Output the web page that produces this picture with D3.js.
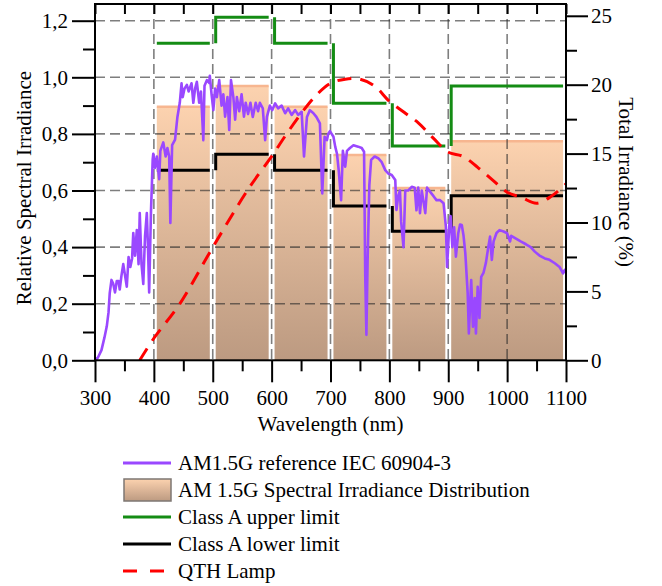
<!DOCTYPE html>
<html>
<head>
<meta charset="utf-8">
<script src="https://cdn.jsdelivr.net/npm/d3@7"></script>
<style>
  html, body { margin: 0; padding: 0; background: #fff; }
  svg { display: block; }
  svg text { font-family: "Liberation Serif", "DejaVu Serif", "Times New Roman", Times, serif !important; }
</style>
</head>
<body>
<svg id="chart" width="662" height="586"></svg>
<script>
// ---------------- data ----------------
const bandStart = [400, 500, 600, 700, 800, 900];
const bandEnd   = [500, 600, 700, 800, 900, 1100];
const distribution = [18.4, 19.9, 18.4, 14.9, 12.5, 15.9];   // % (right axis)
const upperLimit   = [23.0, 24.9, 23.0, 18.65, 15.55, 19.9];  // % (right axis)
const lowerLimit   = [13.8, 14.95, 13.8, 11.2, 9.36, 11.95];  // % (right axis)

const amWavelength = [300,305,311,316,320,323,325,328,331,334,337,340,342,345,348,351,354,357,360,363,365,368,371,374,376,379,382,385,388,390,392,395,398,399,402,405,409,411,416,420,423,426,428,431,436,440,444,447,449,452,456,459,464,467,470,473,477,480,484,486,490,494,495,498,501,504,507,511,515,518,521,525,528,531,535,538,541,545,549,553,556,560,564,568,573,577,580,585,589,592,597,601,606,611,617,623,628,634,640,645,651,655,660,665,671,676,682,686,690,694,696,699,705,708,711,714,718,721,725,728,733,739,747,753,757,759,761,763,766,769,775,781,787,793,798,804,810,812,815,818,820,824,827,832,838,843,846,849,852,855,861,864,869,875,880,886,892,896,898,902,904,907,910,913,917,920,923,926,929,933,935,939,942,945,947,950,953,956,960,964,968,971,974,977,982,987,994,1000,1005,1007,1015,1023,1032,1040,1047,1055,1064,1072,1081,1089,1095,1098,1100];
const amValue = [0.0,0.01,0.036,0.08,0.12,0.17,0.237,0.284,0.27,0.24,0.28,0.28,0.25,0.30,0.34,0.30,0.26,0.365,0.33,0.36,0.45,0.37,0.46,0.34,0.52,0.34,0.27,0.44,0.52,0.40,0.24,0.52,0.71,0.73,0.68,0.72,0.64,0.74,0.77,0.72,0.75,0.72,0.485,0.76,0.78,0.86,0.91,0.979,0.93,0.96,0.973,0.95,0.979,0.91,0.96,0.984,0.91,0.95,0.778,0.97,0.99,0.98,1.005,0.94,0.884,0.96,0.93,0.99,0.90,0.94,0.861,0.93,0.814,0.99,0.93,0.85,0.93,0.88,0.94,0.861,0.91,0.87,0.91,0.86,0.91,0.88,0.91,0.89,0.778,0.86,0.90,0.884,0.908,0.89,0.90,0.873,0.89,0.867,0.884,0.867,0.878,0.72,0.86,0.884,0.873,0.86,0.837,0.59,0.79,0.778,0.80,0.81,0.79,0.755,0.73,0.67,0.566,0.74,0.684,0.74,0.75,0.76,0.755,0.75,0.737,0.30,0.09,0.35,0.62,0.708,0.72,0.714,0.70,0.672,0.66,0.655,0.637,0.531,0.58,0.60,0.49,0.40,0.60,0.60,0.613,0.61,0.53,0.61,0.52,0.60,0.52,0.61,0.596,0.58,0.566,0.566,0.555,0.472,0.33,0.484,0.51,0.40,0.47,0.366,0.449,0.48,0.478,0.44,0.378,0.237,0.095,0.284,0.119,0.22,0.095,0.26,0.15,0.295,0.31,0.345,0.40,0.437,0.355,0.42,0.45,0.46,0.455,0.449,0.42,0.44,0.43,0.42,0.41,0.40,0.384,0.37,0.36,0.355,0.343,0.33,0.307,0.32,0.31];

const qthWavelength = [376,400,444,500,560,600,625,650,675,700,725,750,775,800,825,850,875,900,925,950,975,1000,1025,1050,1075,1100];
const qthValue      = [0,1.6,4.1,8.2,12.4,14.8,16.4,17.9,19.2,20.1,20.4,20.4,19.9,18.8,18.0,17.2,16.1,15.1,14.8,14.0,13.1,12.2,11.8,11.4,11.9,12.8];

const xTicks = [300,400,500,600,700,800,900,1000,1100];
const xMinor = [350,450,550,650,750,850,950,1050];
const leftTicks = [0,0.2,0.4,0.6,0.8,1.0,1.2];
const leftMinor = [0.1,0.3,0.5,0.7,0.9,1.1];
const rightTicks = [0,5,10,15,20,25];
const rightMinor = [2.5,7.5,12.5,17.5,22.5];
const xGrid = [400,500,600,700,800,900,1000];
const yGrid = [0.2,0.4,0.6,0.8,1.0,1.2];

const legendLabels = ["AM1.5G reference IEC 60904-3","AM 1.5G Spectral Irradiance Distribution","Class A upper limit","Class A lower limit","QTH Lamp"];

// ---------------- layout ----------------
const X0 = 95, X1 = 566, YB = 360.3, YT = 4;
const FONT = 21;
const FAMILY = "'Liberation Serif', 'DejaVu Serif', 'Times New Roman', serif";
const svg = d3.select("#chart");

const x = d3.scaleLinear().domain([300, 1100]).range([X0, X1]);
const yL = d3.scaleLinear().domain([0, 1.2]).range([YB, 20.7]);
const yR = d3.scaleLinear().domain([0, 25]).range([YB, 15.8]);

const colPurple = "#9a48ff", colGreen = "#148c14", colBlack = "#000", colRed = "#ff0000";

const defs = svg.append("defs");
const grad = defs.append("linearGradient").attr("id", "barGrad")
  .attr("x1", 0).attr("y1", 0).attr("x2", 0).attr("y2", 1);
grad.append("stop").attr("offset", "0%").attr("stop-color", "#fcd2af");
grad.append("stop").attr("offset", "100%").attr("stop-color", "#bc9a81");

const bands = bandStart.map((s, i) => ({
  s: s + 5, e: bandEnd[i] - 5, dist: distribution[i], up: upperLimit[i], lo: lowerLimit[i],
  prevUp: i > 0 ? upperLimit[i - 1] : null, prevLo: i > 0 ? lowerLimit[i - 1] : null
}));

// bars
const gBars = svg.append("g");
gBars.selectAll("rect").data(bands).join("rect")
  .attr("x", d => x(d.s)).attr("width", d => x(d.e) - x(d.s))
  .attr("y", d => yR(d.dist)).attr("height", d => YB - yR(d.dist))
  .attr("fill", "url(#barGrad)");
gBars.selectAll("line").data(bands).join("line")
  .attr("x1", d => x(d.s)).attr("x2", d => x(d.e))
  .attr("y1", d => yR(d.dist)).attr("y2", d => yR(d.dist))
  .attr("stroke", "#f7b690").attr("stroke-width", 2.5);

// grid
const gGrid = svg.append("g").attr("stroke", "rgba(40,40,40,0.6)").attr("stroke-width", 1.6).attr("stroke-dasharray", "10,5");
gGrid.selectAll("line.h").data(yGrid).join("line").attr("class", "h")
  .attr("x1", X0).attr("x2", X1).attr("y1", d => yL(d)).attr("y2", d => yL(d));
gGrid.selectAll("line.v").data(xGrid).join("line").attr("class", "v")
  .attr("x1", d => x(d)).attr("x2", d => x(d)).attr("y1", YT).attr("y2", YB);

// limit step lines
function stepPath(d, key, prevKey) {
  const p = d3.path();
  if (d[prevKey] !== null) { p.moveTo(x(d.s), yR(d[prevKey])); p.lineTo(x(d.s), yR(d[key])); }
  else p.moveTo(x(d.s), yR(d[key]));
  p.lineTo(x(d.e), yR(d[key]));
  return p.toString();
}
svg.append("g").selectAll("path").data(bands).join("path")
  .attr("d", d => stepPath(d, "up", "prevUp")).attr("fill", "none")
  .attr("stroke", colGreen).attr("stroke-width", 3);
svg.append("g").selectAll("path").data(bands).join("path")
  .attr("d", d => stepPath(d, "lo", "prevLo")).attr("fill", "none")
  .attr("stroke", colBlack).attr("stroke-width", 3);

// spectrum
const amData = amWavelength.map((w, i) => [w, amValue[i]]);
svg.append("path").datum(amData)
  .attr("d", d3.line().x(d => x(d[0])).y(d => yL(d[1])))
  .attr("fill", "none").attr("stroke", colPurple).attr("stroke-width", 2.6)
  .attr("stroke-linejoin", "round");

// QTH lamp
const qthData = qthWavelength.map((w, i) => [w, qthValue[i]]);
svg.append("path").datum(qthData)
  .attr("d", d3.line().curve(d3.curveCatmullRom.alpha(0.5)).x(d => x(d[0])).y(d => yR(d[1])))
  .attr("fill", "none").attr("stroke", colRed).attr("stroke-width", 3)
  .attr("stroke-dasharray", "14,9");

// axes
function styleAxis(g) {
  g.attr("font-family", FAMILY);
  g.select(".domain").remove();
  g.selectAll(".tick line").attr("stroke", "#000").attr("stroke-width", 2);
  g.selectAll(".tick text").attr("font-size", FONT).attr("font-family", FAMILY).attr("fill", "#000");
}
const fmtL = d => d3.format(".1f")(d).replace(".", ",");
svg.append("g").attr("transform", `translate(${X0},0)`)
  .call(d3.axisLeft(yL).tickValues(leftTicks).tickSize(23).tickPadding(4).tickFormat(fmtL)).call(styleAxis);
svg.append("g").attr("transform", `translate(${X0},0)`)
  .call(d3.axisLeft(yL).tickValues(leftMinor).tickSize(12).tickFormat("")).call(styleAxis);
svg.append("g").attr("transform", `translate(0,${YB})`)
  .call(d3.axisBottom(x).tickValues(xTicks).tickSize(22).tickPadding(8).tickFormat(d3.format("d"))).call(styleAxis);
svg.append("g").attr("transform", `translate(0,${YB})`)
  .call(d3.axisBottom(x).tickValues(xMinor).tickSize(11).tickFormat("")).call(styleAxis);
svg.append("g").attr("transform", `translate(0,${YT})`)
  .call(d3.axisTop(x).tickValues(xTicks.concat(xMinor)).tickSize(-10).tickFormat("")).call(styleAxis);
svg.append("g").attr("transform", `translate(${X1},0)`)
  .call(d3.axisRight(yR).tickValues(rightTicks).tickSize(22).tickPadding(3).tickFormat(d3.format("d"))).call(styleAxis);
svg.append("g").attr("transform", `translate(${X1},0)`)
  .call(d3.axisRight(yR).tickValues(rightMinor).tickSize(11).tickFormat("")).call(styleAxis);

// frame
svg.append("rect").attr("x", X0).attr("y", YT).attr("width", X1 - X0).attr("height", YB - YT)
  .attr("fill", "none").attr("stroke", "#000").attr("stroke-width", 2);

// axis titles
const tg = svg.append("g").attr("font-family", FAMILY).attr("font-size", FONT).attr("fill", "#000");
tg.append("text").attr("transform", `translate(24,${(YT + YB) / 2 + 6}) rotate(-90)`)
  .attr("text-anchor", "middle").attr("dominant-baseline", "central")
  .text("Relative Spectral Irradiance");
tg.append("text").attr("transform", `translate(626,${(YT + YB) / 2}) rotate(90)`)
  .attr("text-anchor", "middle").attr("dominant-baseline", "central")
  .text("Total Irradiance (%)");
tg.append("text").attr("x", (X0 + X1) / 2).attr("y", 431)
  .attr("text-anchor", "middle").text("Wavelength (nm)");

// legend
const legY = [463, 490, 517, 544, 571];
const lg = svg.append("g").attr("font-family", FAMILY).attr("font-size", FONT);
const lx0 = 123, lx1 = 171;
lg.append("line").attr("x1", lx0).attr("x2", lx1).attr("y1", legY[0]).attr("y2", legY[0])
  .attr("stroke", colPurple).attr("stroke-width", 3);
lg.append("rect").attr("x", 124).attr("y", legY[1] - 11).attr("width", 47).attr("height", 22)
  .attr("fill", "url(#barGrad)").attr("stroke", "#7d7773").attr("stroke-width", 1.5);
lg.append("line").attr("x1", lx0).attr("x2", lx1).attr("y1", legY[2]).attr("y2", legY[2])
  .attr("stroke", colGreen).attr("stroke-width", 3);
lg.append("line").attr("x1", lx0).attr("x2", lx1).attr("y1", legY[3]).attr("y2", legY[3])
  .attr("stroke", colBlack).attr("stroke-width", 3);
lg.append("line").attr("x1", lx0).attr("x2", 166).attr("y1", legY[4]).attr("y2", legY[4])
  .attr("stroke", colRed).attr("stroke-width", 3).attr("stroke-dasharray", "14,13");
lg.selectAll("text").data(legendLabels).join("text")
  .attr("x", 178).attr("y", (d, i) => legY[i] + 7)
  .text(d => d);
</script>
</body>
</html>
